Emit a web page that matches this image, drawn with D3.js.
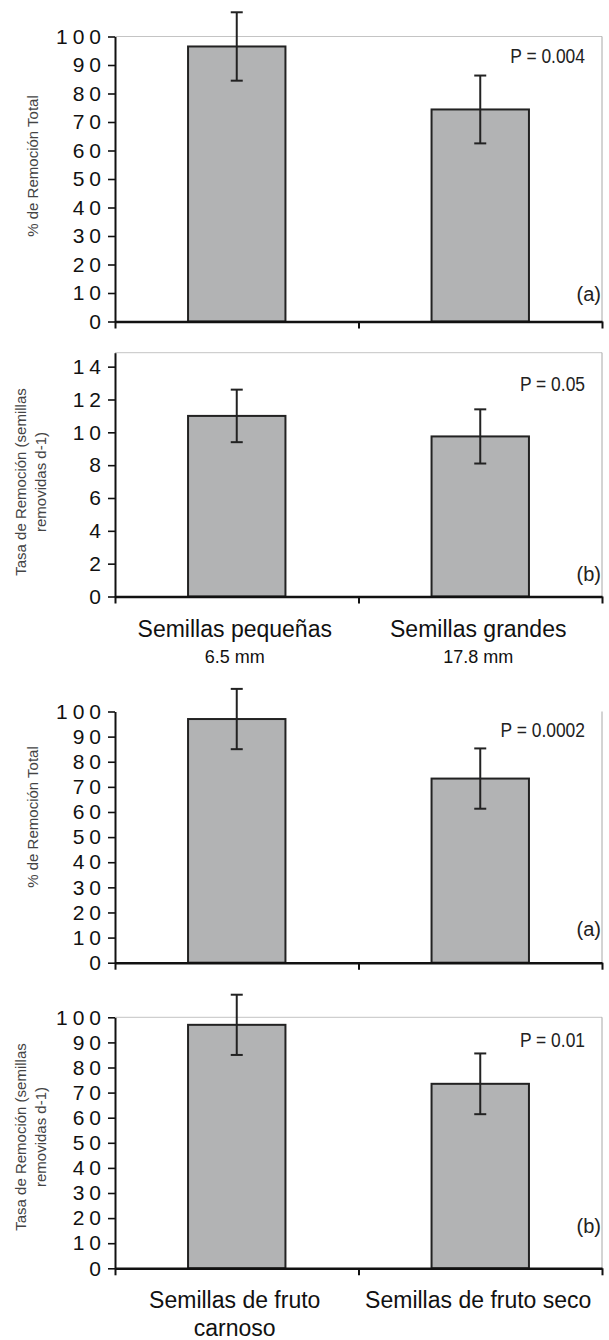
<!DOCTYPE html>
<html><head><meta charset="utf-8">
<script src="https://cdn.jsdelivr.net/npm/d3@7"></script>
<style>
body{margin:0;background:#fff}
svg{display:block}
text{font-family:"Liberation Sans", Arial, Helvetica, sans-serif}
</style>
</head><body>
<svg id="c" width="609" height="1340"></svg>
<script>
// ---- data ----
const sizeCategories = ["Semillas pequeñas", "Semillas grandes"];
const sizeSubLabels = ["6.5 mm", "17.8 mm"];
const fruitCategories = ["Semillas de fruto carnoso", "Semillas de fruto seco"];
const fruitLabelLines = [["Semillas de fruto", "carnoso"], ["Semillas de fruto seco"]];
const sizeRemovalPct = [96.5, 74.4];
const sizeRemovalPctErr = [12.0, 11.9];
const sizeRemovalRate = [11.0, 9.75];
const sizeRemovalRateErr = [1.6, 1.65];
const fruitRemovalPct = [97.0, 73.3];
const fruitRemovalPctErr = [12.0, 12.0];
const fruitRemovalRate = [97.0, 73.5];
const fruitRemovalRateErr = [12.0, 12.1];
const pValues = ["P = 0.004", "P = 0.05", "P = 0.0002", "P = 0.01"];
const panelTags = ["(a)", "(b)", "(a)", "(b)"];
const ticksPct = [0, 10, 20, 30, 40, 50, 60, 70, 80, 90, 100];
const ticksRate = [0, 2, 4, 6, 8, 10, 12, 14];
const yTitlePct = ["% de Remoción Total"];
const yTitleRate = ["Tasa de Remoción (semillas", "removidas d-1)"];

// ---- layout ----
const X0 = 115, X1 = 602;
const panels = [
  {cats: sizeCategories, vals: sizeRemovalPct, errs: sizeRemovalPctErr, ticks: ticksPct, ymax: 100,
   top: 36.5, bottom: 321.5, title: yTitlePct, titleY: 166, p: pValues[0], pY: 63, tag: panelTags[0], tagY: 301, topLine: true},
  {cats: sizeCategories, vals: sizeRemovalRate, errs: sizeRemovalRateErr, ticks: ticksRate, ymax: 14.85,
   top: 352.7, bottom: 596.5, title: yTitleRate, titleY: 482, p: pValues[1], pY: 391, tag: panelTags[1], tagY: 581, topLine: true,
   labels: sizeCategories.map((c, i) => [c, sizeSubLabels[i]])},
  {cats: fruitCategories, vals: fruitRemovalPct, errs: fruitRemovalPctErr, ticks: ticksPct, ymax: 100,
   top: 711.5, bottom: 962.7, title: yTitlePct, titleY: 817, p: pValues[2], pY: 737, tag: panelTags[2], tagY: 936, topLine: false},
  {cats: fruitCategories, vals: fruitRemovalRate, errs: fruitRemovalRateErr, ticks: ticksPct, ymax: 100,
   top: 1017.3, bottom: 1268.3, title: yTitleRate, titleY: 1137, p: pValues[3], pY: 1047, tag: panelTags[3], tagY: 1233, topLine: true,
   labels: fruitLabelLines, big: true}
];

const svg = d3.select("#c");

panels.forEach((P) => {
  const g = svg.append("g");
  const y = d3.scaleLinear().domain([0, P.ymax]).range([P.bottom, P.top]);
  const band = d3.scaleBand().domain(P.cats).range([X0, X1]).paddingInner(0.6).paddingOuter(0.3);
  const xt = d3.scaleLinear().domain([0, 2]).range([X0, X1]);

  // frame
  if (P.topLine) g.append("line").attr("x1", X0).attr("x2", X1).attr("y1", P.top).attr("y2", P.top)
    .attr("stroke", "#c4c4c4").attr("stroke-width", 1);
  g.append("line").attr("x1", X1).attr("x2", X1).attr("y1", P.top).attr("y2", P.bottom)
    .attr("stroke", "#a8a8a8").attr("stroke-width", 1);

  // bars
  g.selectAll("rect.bar").data(P.cats).join("rect").attr("class", "bar")
    .attr("x", d => band(d)).attr("width", band.bandwidth())
    .attr("y", (d, i) => y(P.vals[i])).attr("height", (d, i) => P.bottom - y(P.vals[i]))
    .attr("fill", "#b2b3b4").attr("stroke", "#222").attr("stroke-width", 2);

  // error bars
  const cap = 6;
  const eb = g.selectAll("g.eb").data(P.cats).join("g").attr("class", "eb")
    .attr("stroke", "#222").attr("stroke-width", 2);
  eb.append("line").attr("x1", d => band(d) + band.bandwidth() / 2).attr("x2", d => band(d) + band.bandwidth() / 2)
    .attr("y1", (d, i) => y(P.vals[i] + P.errs[i])).attr("y2", (d, i) => y(P.vals[i] - P.errs[i]));
  eb.append("line").attr("x1", d => band(d) + band.bandwidth() / 2 - cap).attr("x2", d => band(d) + band.bandwidth() / 2 + cap)
    .attr("y1", (d, i) => y(P.vals[i] + P.errs[i])).attr("y2", (d, i) => y(P.vals[i] + P.errs[i]));
  eb.append("line").attr("x1", d => band(d) + band.bandwidth() / 2 - cap).attr("x2", d => band(d) + band.bandwidth() / 2 + cap)
    .attr("y1", (d, i) => y(P.vals[i] - P.errs[i])).attr("y2", (d, i) => y(P.vals[i] - P.errs[i]));

  // y axis
  const ya = g.append("g").attr("transform", `translate(${X0},0)`)
    .call(d3.axisLeft(y).tickValues(P.ticks).tickSize(7).tickSizeOuter(0).tickPadding(7));
  ya.select(".domain").attr("stroke", "#111").attr("stroke-width", 2);
  ya.selectAll(".tick line").attr("stroke", "#111").attr("stroke-width", 1.6);
  ya.selectAll(".tick text").attr("font-size", 21).attr("fill", "#111")
    .style("letter-spacing", "5px").attr("dx", "5px").style("font-family", '"Liberation Sans", Arial, sans-serif');

  // x axis
  const xa = g.append("g").attr("transform", `translate(0,${P.bottom})`)
    .call(d3.axisBottom(xt).tickValues([0, 1, 2]).tickSize(7).tickSizeOuter(0).tickFormat(""));
  xa.select(".domain").attr("stroke", "#111").attr("stroke-width", 2.6);
  xa.selectAll(".tick line").attr("stroke", "#111").attr("stroke-width", 2);

  // y title
  const tt = g.append("g").attr("transform", `translate(0,${P.titleY}) rotate(-90)`);
  const bases = P.title.length === 1 ? [38] : [26, 46];
  P.title.forEach((line, k) => {
    tt.append("text").attr("x", 0).attr("y", bases[k]).attr("text-anchor", "middle")
      .attr("font-size", 15).attr("fill", "#444").text(line);
  });

  // p-value
  g.append("text").attr("transform", `translate(585,${P.pY}) scale(0.83,1)`)
    .attr("text-anchor", "end").attr("font-size", 21).attr("fill", "#222").text(P.p);

  // tag
  g.append("text").attr("x", 601).attr("y", P.tagY).attr("text-anchor", "end")
    .attr("font-size", 20).attr("fill", "#222").text(P.tag);

  // category labels
  if (P.labels) {
    P.cats.forEach((c, i) => {
      const cx = band(c) + band.bandwidth() / 2 - 2;
      P.labels[i].forEach((line, k) => {
        const isSub = !P.big && k === 1;
        g.append("text").attr("x", cx).attr("y", P.bottom + 40 + k * (P.big ? 28 : 26.5))
          .attr("text-anchor", "middle").attr("font-size", isSub ? 18 : 23).attr("fill", "#111").text(line);
      });
    });
  }
});
</script>
</body></html>
